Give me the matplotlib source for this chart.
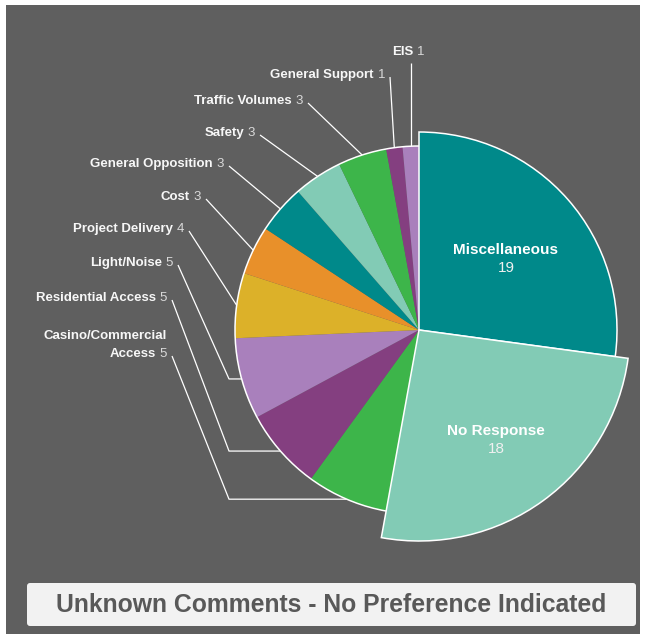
import matplotlib
matplotlib.use('Agg')
import matplotlib.pyplot as plt
import numpy as np
from matplotlib.patches import Rectangle, FancyBboxPatch, Arc

# ---------------- data ----------------
categories = ['Miscellaneous', 'No Response', 'Casino/Commercial\nAccess',
              'Residential Access', 'Light/Noise', 'Project Delivery', 'Cost',
              'General Opposition', 'Safety', 'Traffic Volumes',
              'General Support', 'EIS']
values = [19, 18, 5, 5, 5, 4, 3, 3, 3, 3, 1, 1]
title = 'Unknown Comments - No Preference Indicated'

# ---------------- style / layout ----------------
colors = ['#00898A', '#82CBB5', '#3DB54A', '#843F80', '#A980BC', '#DCB129',
          '#E8902A', '#00898A', '#82CBB5', '#3DB54A', '#843F80', '#A980BC']
FONT = ['Liberation Sans', 'DejaVu Sans']
BG = '#5F5F5F'
W, H = 645, 641
CX, CY = 419, 330
R_BASE = 184
radii = [198, 211] + [R_BASE] * 10

# outer label anchors (right edge x, centre y of last line), line style
outer_layout = {
    2: (167, 354, 'elbow'),
    3: (167, 298, 'elbow'),
    4: (173, 263, 'elbow'),
    5: (184, 229, 'straight'),
    6: (201, 197, 'straight'),
    7: (224, 164, 'straight'),
    8: (255, 133, 'straight'),
    9: (303, 101, 'straight'),
    10: (385, 75, 'straight'),
    11: (424, 52, 'vertical'),
}
ELBOW_X = 229
inner_pos = {0: (506, 259), 1: (496, 440)}

fig = plt.figure(figsize=(W / 100, H / 100), dpi=100, facecolor='white')
ax = fig.add_axes([0, 0, 1, 1])

# grey panel
ax.add_patch(Rectangle((6, 5), 634, 629, facecolor=BG, edgecolor='none', zorder=0))

wedges, _ = ax.pie(values, colors=colors, startangle=-90, counterclock=True,
                   center=(CX, CY), radius=R_BASE,
                   wedgeprops=dict(linewidth=0, antialiased=True))
for i, w in enumerate(wedges):
    w.set_radius(radii[i])
    w.set_zorder(2)
    if i < 2:
        w.set_edgecolor('white')
        w.set_linewidth(1.1)
        w.set_zorder(3)

# white outline on the outer arc of the small slices
ax.add_patch(Arc((CX, CY), 2 * R_BASE, 2 * R_BASE,
                 theta1=wedges[2].theta1, theta2=wedges[-1].theta2,
                 color='white', lw=1.1, zorder=4))

# inner labels
for i, (x, y) in inner_pos.items():
    ax.text(x, y - 9, categories[i], ha='center', va='center', color='white',
            fontsize=11, fontweight='bold', family=FONT, zorder=5)
    ax.text(x, y + 9, str(values[i]), ha='center', va='center', color='#F0F0F0',
            fontsize=11, family=FONT, zorder=5)

# outer labels with leader lines
LINE_H = 18
for i, (rx, y, style) in outer_layout.items():
    lines = categories[i].split('\n')
    num = ax.text(rx, y, str(values[i]), ha='right', va='center', color='#D9D9D9',
                  fontsize=9.5, family=FONT, zorder=5)
    ax.annotate(lines[-1], xy=(0, 0.5), xycoords=num, xytext=(-2.6, 0),
                textcoords='offset points', ha='right', va='center',
                color='#F7F7F7', fontsize=9.5, fontweight='bold', family=FONT, zorder=5)
    for k, ln in enumerate(reversed(lines[:-1])):
        ax.text(rx, y - LINE_H * (k + 1), ln, ha='right', va='center', color='#F7F7F7',
                fontsize=9.5, fontweight='bold', family=FONT, zorder=5)
    w = wedges[i]
    mid = np.deg2rad((w.theta1 + w.theta2) / 2)
    ex, ey = CX + R_BASE * np.cos(mid), CY + R_BASE * np.sin(mid)
    if style == 'elbow':
        xs = [rx + 5, ELBOW_X, ex]
        ys = [y + 2, ey, ey]
    elif style == 'vertical':
        xs = [ex, ex]
        ys = [y + 11, ey]
    else:
        xs = [rx + 5, ex]
        ys = [y + 2, ey]
    ax.plot(xs, ys, color='white', lw=0.9, solid_capstyle='butt', zorder=1)

# title box
ax.add_patch(FancyBboxPatch((27, 583), 609, 43,
                            boxstyle='round,pad=0,rounding_size=3',
                            facecolor='#F2F2F2', edgecolor='none', zorder=5))
ax.text(331.5, 605, title, ha='center', va='center', color='#595959',
        fontsize=17.8, fontweight='bold', family=FONT, zorder=6)

ax.set_xlim(0, W)
ax.set_ylim(H, 0)
ax.set_aspect('auto')
ax.axis('off')

fig.savefig('out.png', dpi=100, facecolor='white')
